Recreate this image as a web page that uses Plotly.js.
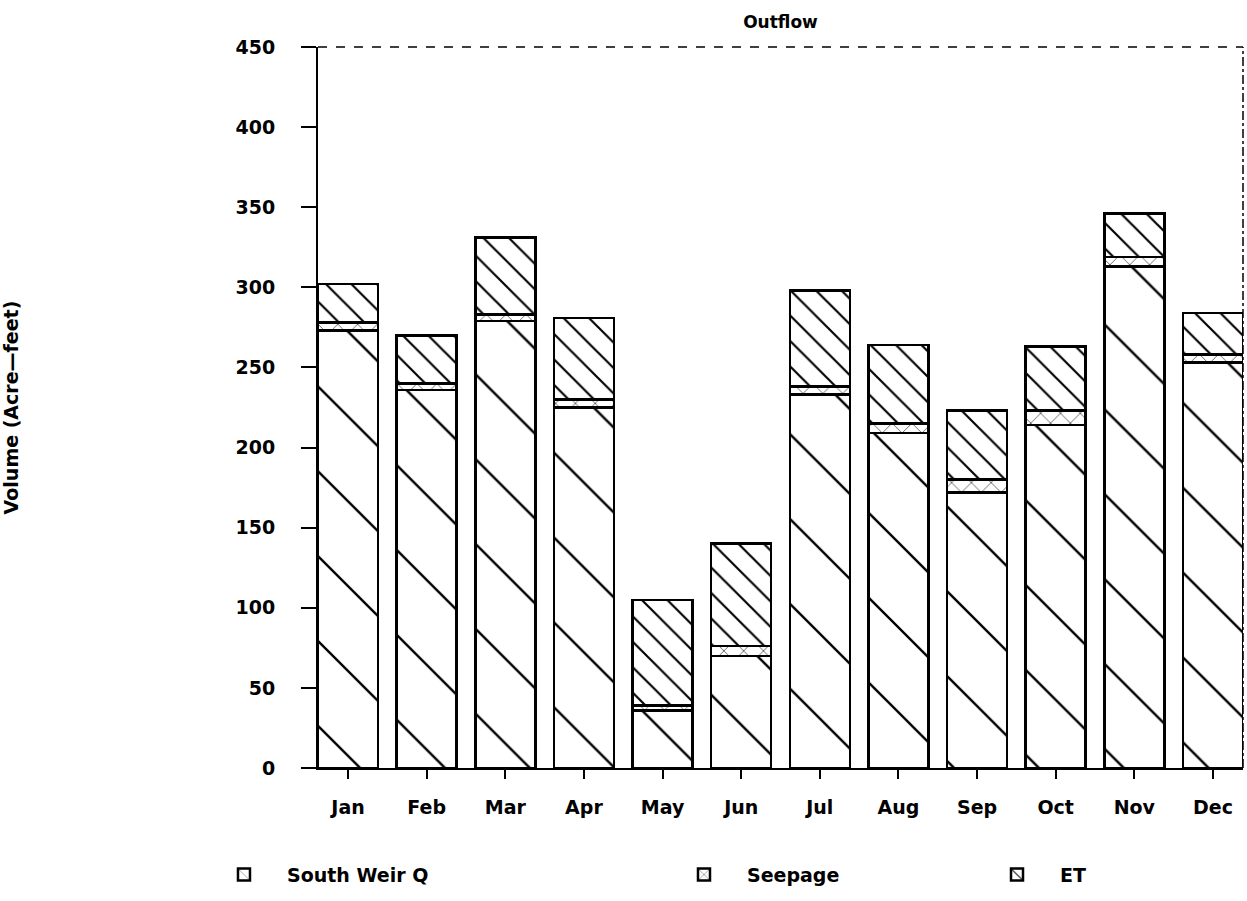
<!DOCTYPE html>
<html>
<head>
<meta charset="utf-8">
<script src="https://cdn.plot.ly/plotly-3.0.1.min.js"></script>
<style>html,body{margin:0;padding:0;background:#fff;}#chart{width:1247px;height:901px;}</style>
</head>
<body>
<div id="chart"></div>
<script>
const months = ["Jan","Feb","Mar","Apr","May","Jun","Jul","Aug","Sep","Oct","Nov","Dec"];
const southWeirQ = [273, 236, 279, 225, 36, 70, 233, 209, 172, 214, 313, 253];
const seepage    = [5, 4, 4, 5, 3, 6, 5, 6, 8, 9, 6, 5];
const et         = [24, 30, 48, 51, 66, 64, 60, 49, 43, 40, 27, 26];
const yTicks = [0, 50, 100, 150, 200, 250, 300, 350, 400, 450];

const font = {family: "DejaVu Sans, Liberation Sans, sans-serif", color: "#000"};
const boldFont = Object.assign({}, font, {size: 19, weight: "bold"});
const line = {color: "#000", width: 2.5};

const traces = [
  {type: "bar", name: "South Weir Q", x: months, y: southWeirQ, legend: "legend",
   marker: {color: "#fff", line: line, pattern: {shape: "\\", size: 60, solidity: 0.04, fgcolor: "#000", bgcolor: "#fff"}}},
  {type: "bar", name: "Seepage", x: months, y: seepage, legend: "legend2",
   marker: {color: "#fff", line: line, pattern: {shape: "x", size: 14, solidity: 0.08, fgcolor: "#000", bgcolor: "#fff"}}},
  {type: "bar", name: "ET", x: months, y: et, legend: "legend3",
   marker: {color: "#fff", line: line, pattern: {shape: "\\", size: 18, solidity: 0.12, fgcolor: "#000", bgcolor: "#fff"}}}
];

const legBase = {orientation: "h", y: -0.148, yanchor: "middle", xanchor: "left", bgcolor: "rgba(0,0,0,0)",
  font: boldFont, itemwidth: 76};

const layout = {
  width: 1247, height: 901,
  margin: {l: 318, r: 4, t: 47, b: 133},
  paper_bgcolor: "#fff", plot_bgcolor: "#fff",
  barmode: "stack", bargap: 0.236,
  font: font,
  title: {text: "Outflow", x: 0.5, xref: "paper", xanchor: "center", y: 0.975, yanchor: "middle",
    font: Object.assign({}, font, {size: 17, weight: "bold"})},
  xaxis: {type: "category", categoryorder: "array", categoryarray: months, range: [-0.382, 11.382],
    showline: true, linecolor: "#000", linewidth: 2, ticks: "outside", ticklen: 9, tickwidth: 2, tickcolor: "#000",
    ticklabelstandoff: 12, showgrid: false, zeroline: false, tickfont: boldFont},
  yaxis: {range: [0, 450], tickvals: yTicks, ticktext: yTicks.map(String),
    showline: true, linecolor: "#000", linewidth: 2, ticks: "outside", ticklen: 15, tickwidth: 2, tickcolor: "#000",
    ticklabelstandoff: 22, showgrid: false, zeroline: false, tickfont: boldFont,
    title: {text: "Volume (Acre\u2014feet)", standoff: 226, font: Object.assign({}, font, {size: 19, weight: "bold"})}},
  shapes: [
    {type: "line", xref: "paper", yref: "paper", x0: 0, x1: 1, y0: 1, y1: 1, line: {color: "#000", width: 1.5, dash: "dash"}},
    {type: "line", xref: "paper", yref: "paper", x0: 1, x1: 1, y0: 0, y1: 1, line: {color: "#000", width: 1.5, dash: "dashdot"}}
  ],
  showlegend: true,
  legend: Object.assign({}, legBase, {x: -0.1265}),
  legend2: Object.assign({}, legBase, {x: 0.3708}),
  legend3: Object.assign({}, legBase, {x: 0.7092})
};

Plotly.newPlot("chart", traces, layout, {displayModeBar: false, staticPlot: true});
</script>
</body>
</html>
